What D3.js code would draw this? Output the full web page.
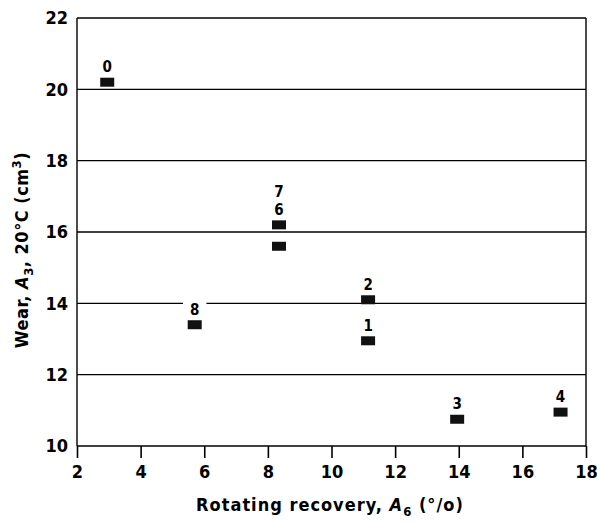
<!DOCTYPE html>
<html>
<head>
<meta charset="utf-8">
<script src="https://cdn.jsdelivr.net/npm/d3@7"></script>
<style>
  body { margin: 0; background: #fff; }
  svg text { font-family: "DejaVu Sans Condensed", "DejaVu Sans", sans-serif; fill: #000; }
</style>
</head>
<body>
<script>
var width = 597, height = 522;

// data
var labels = ["0", "1", "2", "3", "4", "6", "7", "8"];
var recovery = [2.95, 11.15, 11.15, 13.95, 17.2, 8.35, 8.35, 5.7];
var wear = [20.2, 12.95, 14.1, 10.75, 10.95, 15.6, 16.2, 13.4];
var xTicks = [2, 4, 6, 8, 10, 12, 14, 16, 18];
var yTicks = [10, 12, 14, 16, 18, 20, 22];
// where each number is written (above the marker, 6 and 7 stacked over the upper one)
var labelAt = {"0": 0, "1": 0, "2": 0, "3": 0, "4": 0, "8": 0, "6": 0, "7": 1};
var labelOn = {"6": "7", "7": "7"};

var margin = {top: 18, right: 11, bottom: 76, left: 77};
var x = d3.scaleLinear().domain([2, 18]).range([margin.left, width - margin.right]);
var y = d3.scaleLinear().domain([10, 22]).range([height - margin.bottom, margin.top]);

var svg = d3.select("body").append("svg")
    .attr("width", width)
    .attr("height", height);

// horizontal grid lines
svg.append("g")
  .selectAll("line")
  .data(yTicks)
  .join("line")
    .attr("x1", x(2))
    .attr("x2", x(18))
    .attr("y1", d => y(d))
    .attr("y2", d => y(d))
    .attr("stroke", "#000")
    .attr("stroke-width", 1.4);

// left and right frame
svg.append("g")
  .selectAll("line")
  .data([2, 18])
  .join("line")
    .attr("x1", d => x(d))
    .attr("x2", d => x(d))
    .attr("y1", y(22))
    .attr("y2", y(10))
    .attr("stroke", "#000")
    .attr("stroke-width", 1.4);

// x axis
var xAxis = svg.append("g")
    .attr("transform", `translate(0,${y(10)})`)
    .call(d3.axisBottom(x).tickValues(xTicks).tickSize(12).tickPadding(7).tickSizeOuter(0));
xAxis.select(".domain").remove();
xAxis.selectAll("line").attr("stroke-width", 1.6);
xAxis.selectAll("text")
    .style("font-size", "18px")
    .style("font-weight", "bold")
    .style("font-family", "\"DejaVu Sans Condensed\", sans-serif");

// y axis
var yAxis = svg.append("g")
    .attr("transform", `translate(${x(2)},0)`)
    .call(d3.axisLeft(y).tickValues(yTicks).tickSize(0).tickPadding(9));
yAxis.select(".domain").remove();
yAxis.selectAll("text")
    .style("font-size", "18px")
    .style("font-weight", "bold")
    .style("font-family", "\"DejaVu Sans Condensed\", sans-serif");

// point labels (white back so the grid line is cut under the text)
var pts = labels.map((l, i) => ({label: l, x: recovery[i], y: wear[i]}));
var byLabel = {};
pts.forEach(p => byLabel[p.label] = p);

var lab = svg.append("g");
pts.forEach(p => {
  var anchor = byLabel[labelOn[p.label] || p.label];
  var ly = y(anchor.y) - 10 - labelAt[p.label] * 18;
  var t = lab.append("text")
      .attr("x", x(anchor.x))
      .attr("y", ly)
      .attr("text-anchor", "middle")
      .style("font-size", "15px")
      .style("font-weight", "bold")
      .text(p.label);
  if (p.label === "8") {
    var bb = t.node().getBBox();
    lab.insert("rect", "text")
        .attr("x", bb.x - 7)
        .attr("y", bb.y)
        .attr("width", bb.width + 14)
        .attr("height", bb.height)
        .attr("fill", "#fff");
  }
});

// markers
svg.append("g")
  .selectAll("rect")
  .data(pts)
  .join("rect")
    .attr("x", d => x(d.x) - 7)
    .attr("y", d => y(d.y) - 4.5)
    .attr("width", 14)
    .attr("height", 9)
    .attr("fill", "#111");

// axis titles
var xt = svg.append("text")
    .attr("x", 330)
    .attr("y", 511)
    .attr("text-anchor", "middle")
    .style("font-size", "18px")
    .style("font-weight", "bold")
    .style("letter-spacing", "1px");
xt.append("tspan").text("Rotating recovery, ");
xt.append("tspan").style("font-style", "italic").text("A");
xt.append("tspan").attr("dy", 5).style("font-size", "13px").text("6");
xt.append("tspan").attr("dy", -5).text(" (°/o)");

var yt = svg.append("text")
    .attr("transform", "translate(28,250) rotate(-90)")
    .attr("text-anchor", "middle")
    .style("font-size", "18px")
    .style("font-weight", "bold")
    .style("letter-spacing", "0.5px");
yt.append("tspan").text("Wear, ");
yt.append("tspan").style("font-style", "italic").text("A");
yt.append("tspan").attr("dy", 5).style("font-size", "13px").text("3");
yt.append("tspan").attr("dy", -5).text(", 20°C (cm");
yt.append("tspan").attr("dy", -7).style("font-size", "13px").text("3");
yt.append("tspan").attr("dy", 7).text(")");
</script>
</body>
</html>
